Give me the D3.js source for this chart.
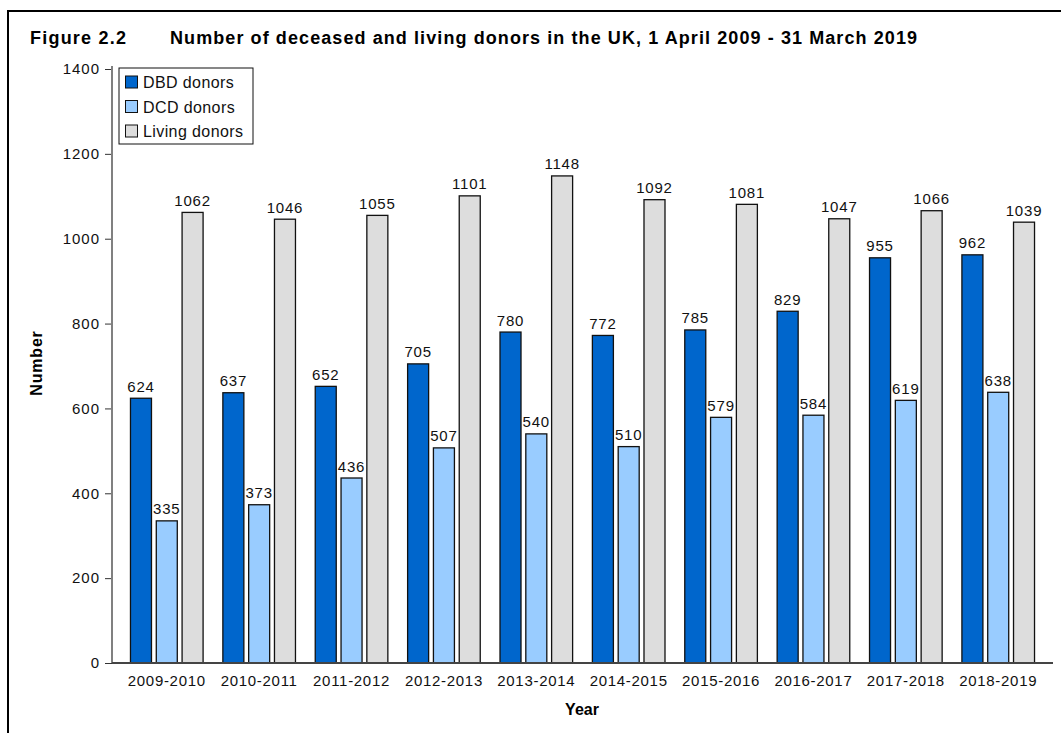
<!DOCTYPE html>
<html>
<head>
<meta charset="utf-8">
<script src="https://cdn.jsdelivr.net/npm/d3@7"></script>
<style>
  body { margin: 0; background: #fff; }
  svg { display: block; font-family: "Liberation Sans", Arial, sans-serif; }
</style>
</head>
<body>
<div id="chart"></div>
<script>
// Data
const years = ['2009-2010', '2010-2011', '2011-2012', '2012-2013', '2013-2014',
               '2014-2015', '2015-2016', '2016-2017', '2017-2018', '2018-2019'];
const seriesNames = ['DBD donors', 'DCD donors', 'Living donors'];
const dbd = [624, 637, 652, 705, 780, 772, 785, 829, 955, 962];
const dcd = [335, 373, 436, 507, 540, 510, 579, 584, 619, 638];
const living = [1062, 1046, 1055, 1101, 1148, 1092, 1081, 1047, 1066, 1039];
const yTicks = [0, 200, 400, 600, 800, 1000, 1200, 1400];

const colors = ['#0066CC', '#99CCFF', '#DDDDDD'];
const fontFamily = '"Liberation Sans", Arial, sans-serif';
const width = 1061, height = 733;

const rows = years.map((y, i) => ({ year: y, values: [dbd[i], dcd[i], living[i]] }));

const svg = d3.select('#chart').append('svg')
    .attr('width', width)
    .attr('height', height);

// Frame (only top and left edges are visible)
svg.append('path')
    .attr('d', 'M8,733 V11 H1061')
    .attr('fill', 'none')
    .attr('stroke', '#000')
    .attr('stroke-width', 2);

// Title
svg.append('text')
    .attr('x', 30).attr('y', 44)
    .attr('font-size', 18).attr('font-weight', 'bold')
    .attr('textLength', 96).attr('lengthAdjust', 'spacing')
    .text('Figure 2.2');
svg.append('text')
    .attr('x', 170).attr('y', 44)
    .attr('font-size', 18).attr('font-weight', 'bold')
    .attr('textLength', 747).attr('lengthAdjust', 'spacing')
    .text('Number of deceased and living donors in the UK, 1 April 2009 - 31 March 2019');

// Scales
const x0 = d3.scaleBand()
    .domain(years)
    .range([112, 1053])
    .paddingInner(0.214)
    .paddingOuter(0.2);

const x1 = d3.scaleBand()
    .domain(d3.range(seriesNames.length))
    .range([0, x0.bandwidth()])
    .paddingInner(0.186);

const y = d3.scaleLinear()
    .domain([0, 1400])
    .range([663, 69]);

// Y axis
const yAxis = svg.append('g')
    .attr('transform', 'translate(112,0)')
    .call(d3.axisLeft(y).tickValues(yTicks).tickFormat(d3.format('d')).tickSize(7).tickPadding(5));
yAxis.select('.domain').remove();
yAxis.selectAll('.tick line').attr('stroke', '#333');
yAxis.selectAll('.tick text')
    .attr('font-size', 15)
    .attr('font-family', fontFamily)
    .attr('fill', '#111')
    .style('letter-spacing', '1px');
svg.append('line')
    .attr('x1', 112).attr('x2', 112)
    .attr('y1', 66).attr('y2', 663)
    .attr('stroke', '#808080')
    .attr('stroke-width', 2);

// Bars
const groups = svg.selectAll('.group')
    .data(rows)
    .enter()
    .append('g')
    .attr('class', 'group')
    .attr('transform', d => `translate(${x0(d.year)},0)`);

groups.selectAll('rect')
    .data(d => d.values)
    .enter()
    .append('rect')
    .attr('x', (d, i) => x1(i))
    .attr('y', d => y(d))
    .attr('width', x1.bandwidth())
    .attr('height', d => y(0) - y(d))
    .attr('fill', (d, i) => colors[i])
    .attr('stroke', '#111')
    .attr('stroke-width', 1.3);

groups.selectAll('.value')
    .data(d => d.values)
    .enter()
    .append('text')
    .attr('class', 'value')
    .attr('x', (d, i) => x1(i) + x1.bandwidth() / 2)
    .attr('y', d => y(d) - 6.5)
    .attr('text-anchor', 'middle')
    .attr('font-size', 15)
    .attr('fill', '#111')
    .style('letter-spacing', '0.8px')
    .text(d => d);

// X axis
svg.append('line')
    .attr('x1', 112).attr('x2', 1053)
    .attr('y1', 663).attr('y2', 663)
    .attr('stroke', '#444')
    .attr('stroke-width', 2);

svg.selectAll('.xlabel')
    .data(years)
    .enter()
    .append('text')
    .attr('class', 'xlabel')
    .attr('x', d => x0(d) + x0.bandwidth() / 2)
    .attr('y', 686)
    .attr('text-anchor', 'middle')
    .attr('font-size', 15)
    .attr('fill', '#111')
    .style('letter-spacing', '0.7px')
    .text(d => d);

// Axis titles
svg.append('text')
    .attr('x', 582).attr('y', 715)
    .attr('text-anchor', 'middle')
    .attr('font-size', 16).attr('font-weight', 'bold')
    .text('Year');

svg.append('text')
    .attr('transform', 'translate(42,363) rotate(-90)')
    .attr('text-anchor', 'middle')
    .attr('font-size', 16).attr('font-weight', 'bold')
    .style('letter-spacing', '0.8px')
    .text('Number');

// Legend
const legend = svg.append('g').attr('transform', 'translate(119,68)');
legend.append('rect')
    .attr('width', 134).attr('height', 76)
    .attr('fill', '#fff')
    .attr('stroke', '#111')
    .attr('stroke-width', 1);

const items = legend.selectAll('.item')
    .data(seriesNames)
    .enter()
    .append('g')
    .attr('class', 'item')
    .attr('transform', (d, i) => `translate(0,${14 + i * 24.5})`);

items.append('rect')
    .attr('x', 6.5).attr('y', -6)
    .attr('width', 12).attr('height', 12)
    .attr('fill', (d, i) => colors[i])
    .attr('stroke', '#111');

items.append('text')
    .attr('x', 24).attr('y', 6)
    .attr('font-size', 16)
    .attr('fill', '#111')
    .style('letter-spacing', '0.4px')
    .text(d => d);
</script>
</body>
</html>
